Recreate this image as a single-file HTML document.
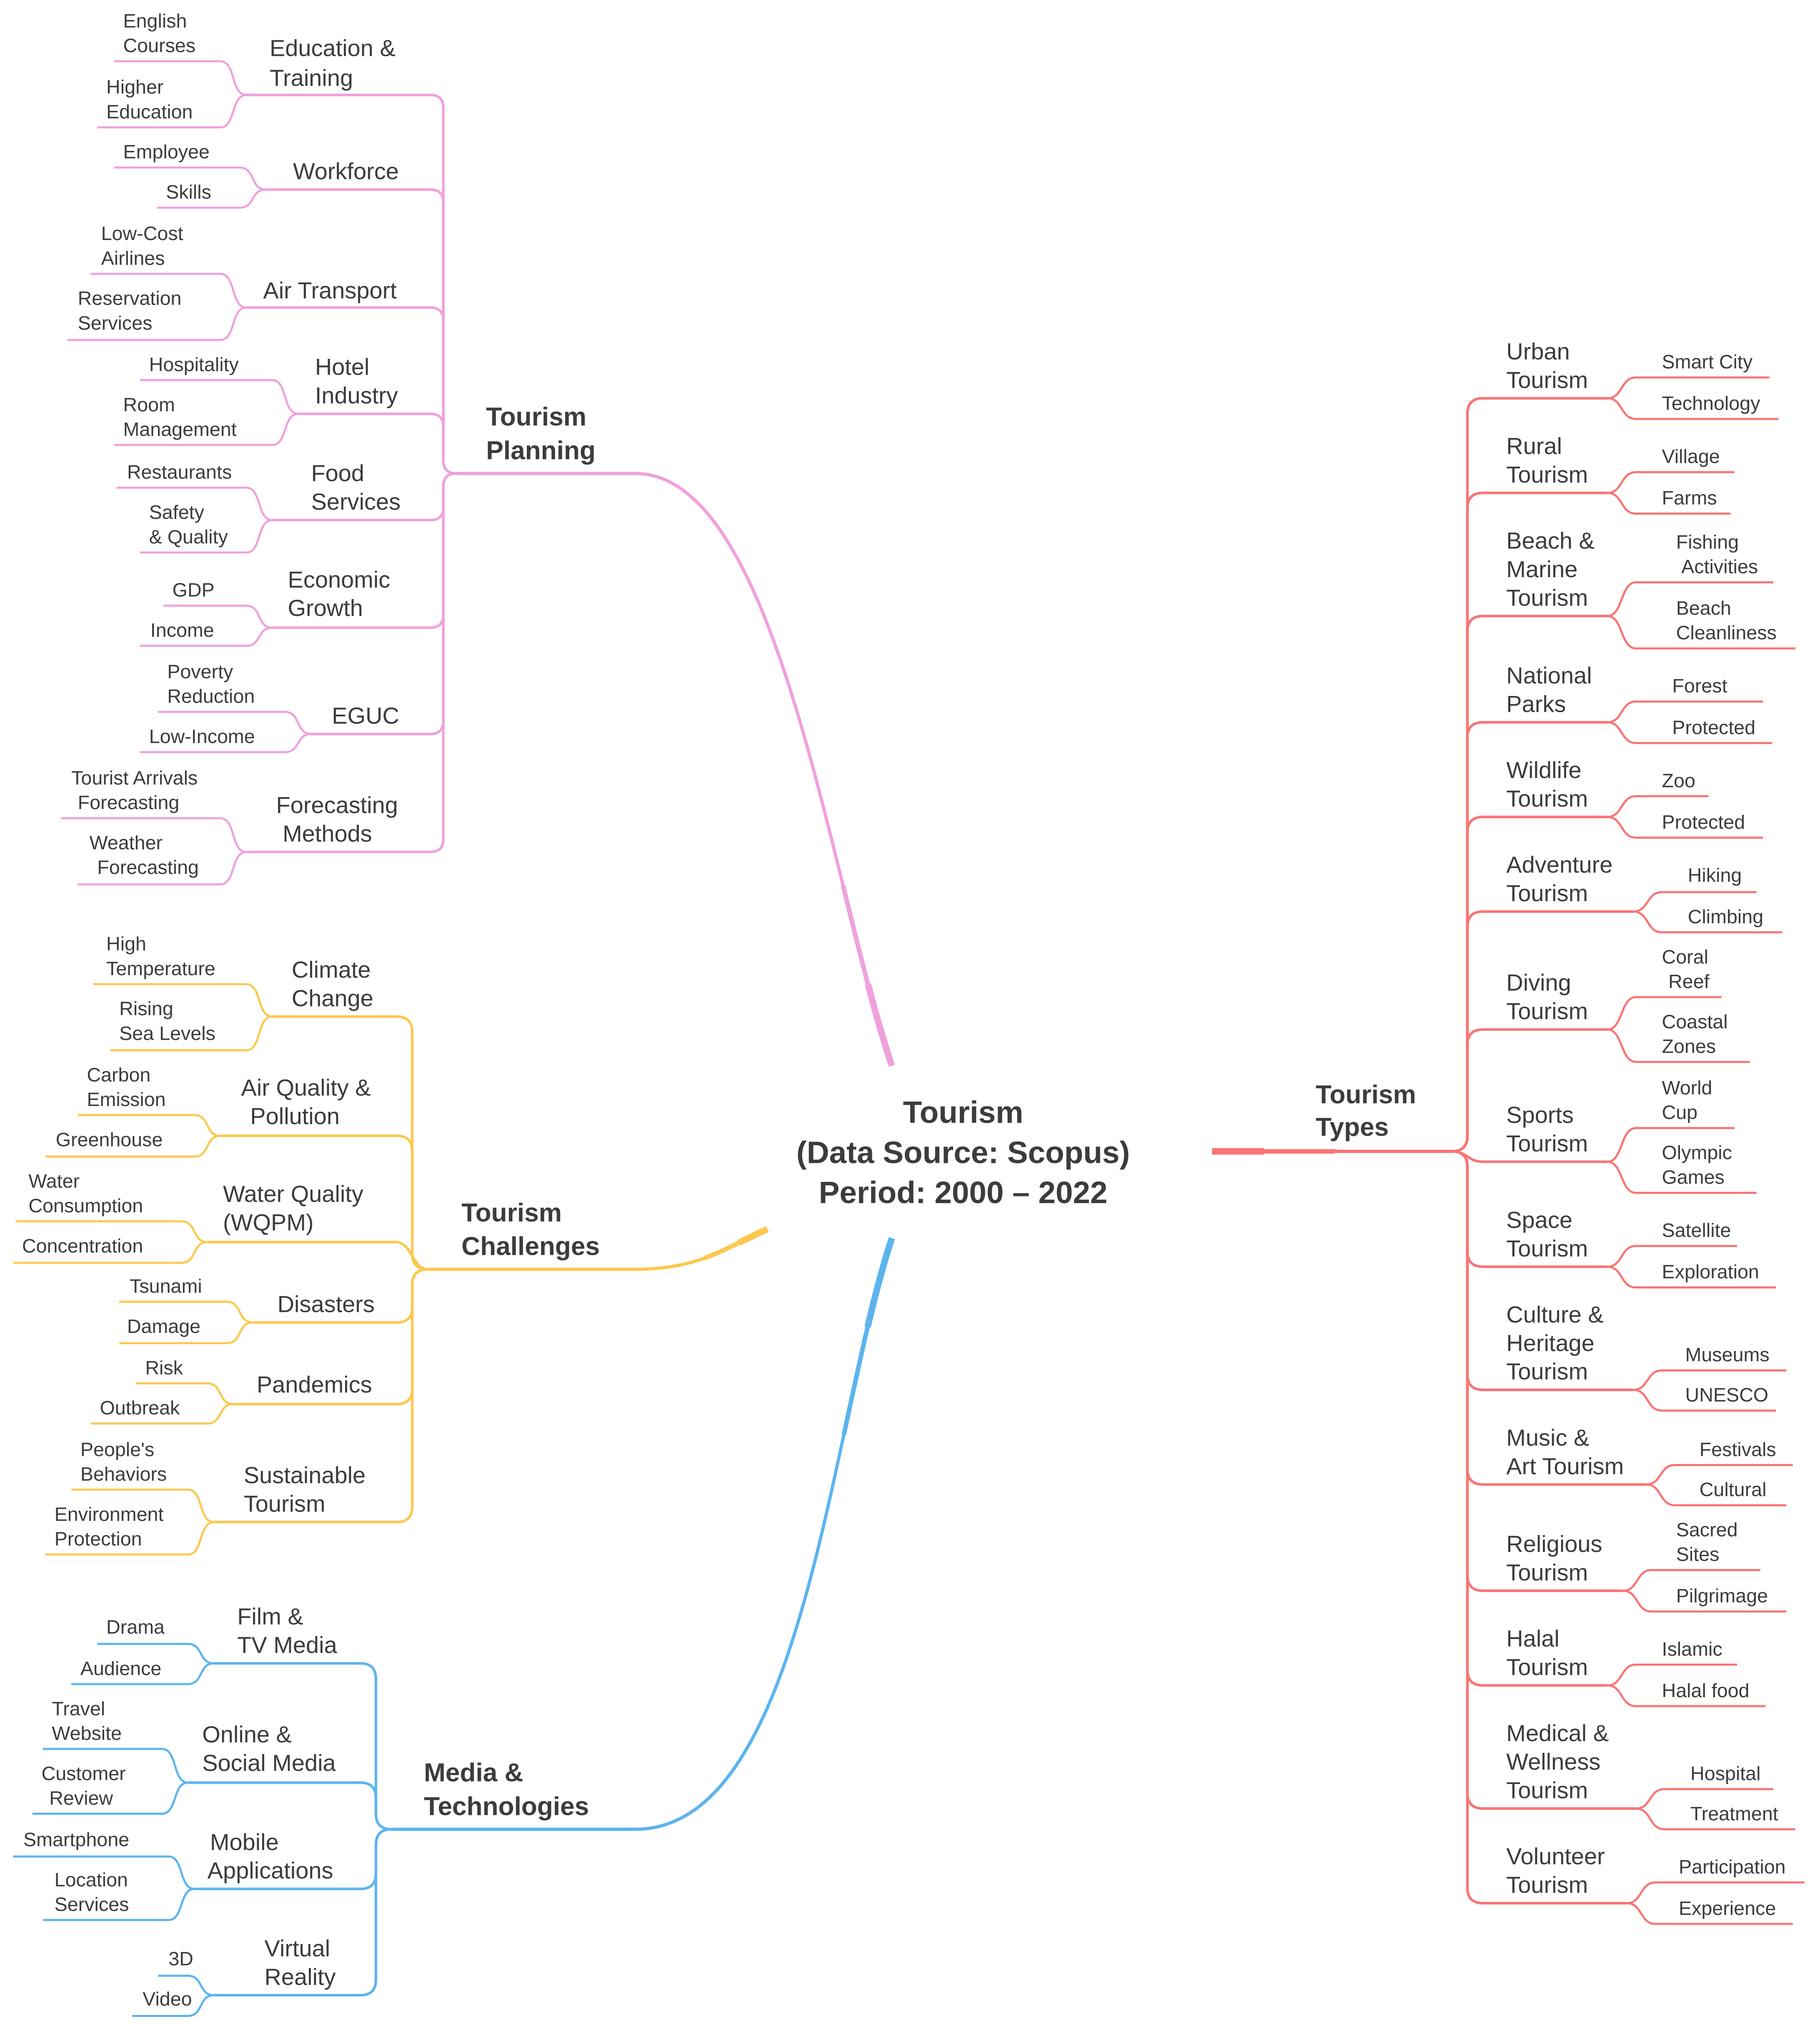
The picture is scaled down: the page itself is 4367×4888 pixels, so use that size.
<!DOCTYPE html>
<html><head><meta charset="utf-8"><style>
html,body{margin:0;padding:0;background:#fff;}
svg{display:block;}
text{font-family:"Liberation Sans",Arial,sans-serif;fill:#3c3c3c;}
.r{font-size:24px;font-weight:bold;}
.b{font-size:20px;font-weight:bold;}
.s{font-size:18px;}
.l{font-size:15px;}
.p{stroke:#f0a1dc;fill:none;}
.y{stroke:#fdc850;fill:none;}
.u{stroke:#5cb4ef;fill:none;}
.t{stroke:#f97474;fill:none;}
.m{stroke-width:2;}
.n{stroke-width:1.6;}
</style></head><body>
<svg width="4367" height="4888" viewBox="0 0 1404 1571" xmlns="http://www.w3.org/2000/svg">
<!-- ROOT -->
<text class="r" x="743" y="866" text-anchor="middle">Tourism</text>
<text class="r" x="743" y="897" text-anchor="middle">(Data Source: Scopus)</text>
<text class="r" x="743" y="928" text-anchor="middle">Period: 2000 – 2022</text>

<!-- MAIN BRANCHES -->
<path class="p" stroke-width="2.5" d="M352 365 H490 C600 365 640 680 688 822"/>
<path class="p" stroke-width="3.5" pathLength="100" stroke-dasharray="0 78 22" d="M352 365 H490 C600 365 640 680 688 822"/>
<path class="p" stroke-width="5" pathLength="100" stroke-dasharray="0 90 10" d="M352 365 H490 C600 365 640 680 688 822"/>
<path class="y" stroke-width="2.5" d="M330 979 H490 C540 979 560 962 592 948"/>
<path class="y" stroke-width="3.5" pathLength="100" stroke-dasharray="0 80 20" d="M330 979 H490 C540 979 560 962 592 948"/>
<path class="y" stroke-width="5" pathLength="100" stroke-dasharray="0 91 9" d="M330 979 H490 C540 979 560 962 592 948"/>
<path class="u" stroke-width="2.5" d="M302 1411 H490 C620 1411 640 1100 688 955"/>
<path class="u" stroke-width="3.5" pathLength="100" stroke-dasharray="0 78 22" d="M302 1411 H490 C620 1411 640 1100 688 955"/>
<path class="u" stroke-width="5" pathLength="100" stroke-dasharray="0 90 10" d="M302 1411 H490 C620 1411 640 1100 688 955"/>
<path class="t" stroke-width="2.5" d="M935 888 H1120"/>
<path class="t" stroke-width="3.5" d="M935 888 H1030"/>
<path class="t" stroke-width="5" d="M935 888 H975"/>

<!-- PLANNING -->
<text class="b" x="375" y="328">Tourism</text><text class="b" x="375" y="354">Planning</text>
<g class="p m">
<path d="M352 365Q342 365 342 355L342 83Q342 73 332 73H190"/>
<path d="M352 365Q342 365 342 355L342 156Q342 146 332 146H205"/>
<path d="M352 365Q342 365 342 355L342 247Q342 237 332 237H190"/>
<path d="M352 365Q342 365 342 355L342 329Q342 319 332 319H230"/>
<path d="M352 365Q342 365 342 375L342 391Q342 401 332 401H210"/>
<path d="M352 365Q342 365 342 375L342 474Q342 484 332 484H210"/>
<path d="M352 365Q342 365 342 375L342 556Q342 566 332 566H240"/>
<path d="M352 365Q342 365 342 375L342 647Q342 657 332 657H190"/>
</g>
<g class="p n">
<path d="M190 73C178 73 182 47 170 47H88"/><path d="M190 73C178 73 182 98 170 98H75"/>
<path d="M205 146C193 146 197 129 185 129H88"/><path d="M205 146C193 146 197 160 185 160H121"/>
<path d="M190 237C178 237 182 211 170 211H70"/><path d="M190 237C178 237 182 262 170 262H52"/>
<path d="M230 319C218 319 222 293 210 293H108"/><path d="M230 319C218 319 222 343 210 343H88"/>
<path d="M210 401C198 401 202 376 190 376H90"/><path d="M210 401C198 401 202 426 190 426H108"/>
<path d="M210 484C198 484 202 467 190 467H126"/><path d="M210 484C198 484 202 498 190 498H108"/>
<path d="M240 566C228 566 232 549 220 549H122"/><path d="M240 566C228 566 232 580 220 580H108"/>
<path d="M190 657C178 657 182 631 170 631H47"/><path d="M190 657C178 657 182 682 170 682H60"/>
</g>
<text class="s" x="208" y="43">Education &amp;</text><text class="s" x="208" y="66">Training</text>
<text class="s" x="226" y="138">Workforce</text>
<text class="s" x="203" y="230">Air Transport</text>
<text class="s" x="243" y="289">Hotel</text><text class="s" x="243" y="311">Industry</text>
<text class="s" x="240" y="371">Food</text><text class="s" x="240" y="393">Services</text>
<text class="s" x="222" y="453">Economic</text><text class="s" x="222" y="475">Growth</text>
<text class="s" x="256" y="558">EGUC</text>
<text class="s" x="213" y="627">Forecasting</text><text class="s" x="218" y="649">Methods</text>
<text class="l" x="95" y="21">English</text><text class="l" x="95" y="40">Courses</text>
<text class="l" x="82" y="72">Higher</text><text class="l" x="82" y="91">Education</text>
<text class="l" x="95" y="122">Employee</text>
<text class="l" x="128" y="153">Skills</text>
<text class="l" x="78" y="185">Low-Cost</text><text class="l" x="78" y="204">Airlines</text>
<text class="l" x="60" y="235">Reservation</text><text class="l" x="60" y="254">Services</text>
<text class="l" x="115" y="286">Hospitality</text>
<text class="l" x="95" y="317">Room</text><text class="l" x="95" y="336">Management</text>
<text class="l" x="98" y="369">Restaurants</text>
<text class="l" x="115" y="400">Safety</text><text class="l" x="115" y="419">&amp; Quality</text>
<text class="l" x="133" y="460">GDP</text>
<text class="l" x="116" y="491">Income</text>
<text class="l" x="129" y="523">Poverty</text><text class="l" x="129" y="542">Reduction</text>
<text class="l" x="115" y="573">Low-Income</text>
<text class="l" x="55" y="605">Tourist Arrivals</text><text class="l" x="60" y="624">Forecasting</text>
<text class="l" x="69" y="655">Weather</text><text class="l" x="75" y="674">Forecasting</text>

<!-- CHALLENGES -->
<text class="b" x="356" y="942">Tourism</text><text class="b" x="356" y="968">Challenges</text>
<g class="y m">
<path d="M330 979Q318 979 318 967L318 796Q318 784 306 784H210"/>
<path d="M330 979Q318 979 318 967L318 888Q318 876 306 876H170"/>
<path d="M330 979C318 979 318 958 305 958H160"/>
<path d="M330 979Q318 979 318 991L318 1008Q318 1020 306 1020H195"/>
<path d="M330 979Q318 979 318 991L318 1071Q318 1083 306 1083H180"/>
<path d="M330 979Q318 979 318 991L318 1162Q318 1174 306 1174H165"/>
</g>
<g class="y n">
<path d="M210 784C198 784 202 759 190 759H72"/><path d="M210 784C198 784 202 810 190 810H85"/>
<path d="M170 876C158 876 162 860 150 860H60"/><path d="M170 876C158 876 162 892 150 892H35"/>
<path d="M160 958C148 958 152 942 140 942H12"/><path d="M160 958C148 958 152 974 140 974H10"/>
<path d="M195 1020C183 1020 187 1004 175 1004H92"/><path d="M195 1020C183 1020 187 1036 175 1036H92"/>
<path d="M180 1083C168 1083 172 1067 160 1067H105"/><path d="M180 1083C168 1083 172 1098 160 1098H70"/>
<path d="M165 1174C153 1174 157 1149 145 1149H55"/><path d="M165 1174C153 1174 157 1199 145 1199H35"/>
</g>
<text class="s" x="225" y="754">Climate</text><text class="s" x="225" y="776">Change</text>
<text class="s" x="186" y="845">Air Quality &amp;</text><text class="s" x="193" y="867">Pollution</text>
<text class="s" x="172" y="927">Water Quality</text><text class="s" x="172" y="949">(WQPM)</text>
<text class="s" x="214" y="1012">Disasters</text>
<text class="s" x="198" y="1074">Pandemics</text>
<text class="s" x="188" y="1144">Sustainable</text><text class="s" x="188" y="1166">Tourism</text>
<text class="l" x="82" y="733">High</text><text class="l" x="82" y="752">Temperature</text>
<text class="l" x="92" y="783">Rising</text><text class="l" x="92" y="802">Sea Levels</text>
<text class="l" x="67" y="834">Carbon</text><text class="l" x="67" y="853">Emission</text>
<text class="l" x="43" y="884">Greenhouse</text>
<text class="l" x="22" y="916">Water</text><text class="l" x="22" y="935">Consumption</text>
<text class="l" x="17" y="966">Concentration</text>
<text class="l" x="100" y="997">Tsunami</text>
<text class="l" x="98" y="1028">Damage</text>
<text class="l" x="112" y="1060">Risk</text>
<text class="l" x="77" y="1091">Outbreak</text>
<text class="l" x="62" y="1123">People's</text><text class="l" x="62" y="1142">Behaviors</text>
<text class="l" x="42" y="1173">Environment</text><text class="l" x="42" y="1192">Protection</text>

<!-- MEDIA -->
<text class="b" x="327" y="1374">Media &amp;</text><text class="b" x="327" y="1400">Technologies</text>
<g class="u m">
<path d="M302 1411Q290 1411 290 1399L290 1295Q290 1283 278 1283H165"/>
<path d="M302 1411Q290 1411 290 1399L290 1387Q290 1375 278 1375H145"/>
<path d="M302 1411Q290 1411 290 1423L290 1445Q290 1457 278 1457H150"/>
<path d="M302 1411Q290 1411 290 1423L290 1527Q290 1539 278 1539H165"/>
</g>
<g class="u n">
<path d="M165 1283C153 1283 157 1268 145 1268H75"/><path d="M165 1283C153 1283 157 1299 145 1299H55"/>
<path d="M145 1375C133 1375 137 1349 125 1349H33"/><path d="M145 1375C133 1375 137 1399 125 1399H25"/>
<path d="M150 1457C138 1457 142 1432 130 1432H10"/><path d="M150 1457C138 1457 142 1481 130 1481H33"/>
<path d="M165 1539C153 1539 157 1524 145 1524H122"/><path d="M165 1539C153 1539 157 1555 145 1555H102"/>
</g>
<text class="s" x="183" y="1253">Film &amp;</text><text class="s" x="183" y="1275">TV Media</text>
<text class="s" x="156" y="1344">Online &amp;</text><text class="s" x="156" y="1366">Social Media</text>
<text class="s" x="162" y="1427">Mobile</text><text class="s" x="160" y="1449">Applications</text>
<text class="s" x="204" y="1509">Virtual</text><text class="s" x="204" y="1531">Reality</text>
<text class="l" x="82" y="1260">Drama</text>
<text class="l" x="62" y="1292">Audience</text>
<text class="l" x="40" y="1323">Travel</text><text class="l" x="40" y="1342">Website</text>
<text class="l" x="32" y="1373">Customer</text><text class="l" x="38" y="1392">Review</text>
<text class="l" x="18" y="1424">Smartphone</text>
<text class="l" x="42" y="1455">Location</text><text class="l" x="42" y="1474">Services</text>
<text class="l" x="130" y="1516">3D</text>
<text class="l" x="110" y="1547">Video</text>

<!-- TYPES -->
<text class="b" x="1015" y="851">Tourism</text><text class="b" x="1015" y="876">Types</text>
<g class="t m">
<path d="M1120 888Q1132 888 1132 876L1132 319Q1132 307 1144 307H1240"/>
<path d="M1120 888Q1132 888 1132 876L1132 392Q1132 380 1144 380H1240"/>
<path d="M1120 888Q1132 888 1132 876L1132 487Q1132 475 1144 475H1240"/>
<path d="M1120 888Q1132 888 1132 876L1132 569Q1132 557 1144 557H1240"/>
<path d="M1120 888Q1132 888 1132 876L1132 642Q1132 630 1144 630H1240"/>
<path d="M1120 888Q1132 888 1132 876L1132 715Q1132 703 1144 703H1260"/>
<path d="M1120 888Q1132 888 1132 876L1132 806Q1132 794 1144 794H1240"/>
<path d="M1120 888C1132 888 1132 896 1144 896H1240"/>
<path d="M1120 888Q1132 888 1132 900L1132 965Q1132 977 1144 977H1240"/>
<path d="M1120 888Q1132 888 1132 900L1132 1060Q1132 1072 1144 1072H1260"/>
<path d="M1120 888Q1132 888 1132 900L1132 1133Q1132 1145 1144 1145H1270"/>
<path d="M1120 888Q1132 888 1132 900L1132 1215Q1132 1227 1144 1227H1252"/>
<path d="M1120 888Q1132 888 1132 900L1132 1288Q1132 1300 1144 1300H1240"/>
<path d="M1120 888Q1132 888 1132 900L1132 1383Q1132 1395 1144 1395H1262"/>
<path d="M1120 888Q1132 888 1132 900L1132 1456Q1132 1468 1144 1468H1255"/>
</g>
<g class="t n">
<path d="M1240 307C1252 307 1250 291 1262 291H1365"/><path d="M1240 307C1252 307 1250 323 1262 323H1372"/>
<path d="M1240 380C1252 380 1250 364 1262 364H1338"/><path d="M1240 380C1252 380 1250 396 1262 396H1335"/>
<path d="M1240 475C1252 475 1250 449 1262 449H1368"/><path d="M1240 475C1252 475 1250 500 1262 500H1385"/>
<path d="M1240 557C1252 557 1250 541 1262 541H1360"/><path d="M1240 557C1252 557 1250 573 1262 573H1367"/>
<path d="M1240 630C1252 630 1250 614 1262 614H1318"/><path d="M1240 630C1252 630 1250 646 1262 646H1360"/>
<path d="M1260 703C1272 703 1270 688 1282 688H1355"/><path d="M1260 703C1272 703 1270 719 1282 719H1375"/>
<path d="M1240 794C1252 794 1250 769 1262 769H1328"/><path d="M1240 794C1252 794 1250 819 1262 819H1350"/>
<path d="M1240 896C1252 896 1250 870 1262 870H1338"/><path d="M1240 896C1252 896 1250 920 1262 920H1355"/>
<path d="M1240 977C1252 977 1250 961 1262 961H1340"/><path d="M1240 977C1252 977 1250 993 1262 993H1370"/>
<path d="M1260 1072C1272 1072 1270 1057 1282 1057H1378"/><path d="M1260 1072C1272 1072 1270 1088 1282 1088H1370"/>
<path d="M1270 1145C1282 1145 1280 1130 1292 1130H1383"/><path d="M1270 1145C1282 1145 1280 1161 1292 1161H1378"/>
<path d="M1252 1227C1264 1227 1262 1211 1274 1211H1358"/><path d="M1252 1227C1264 1227 1262 1243 1274 1243H1378"/>
<path d="M1240 1300C1252 1300 1250 1284 1262 1284H1340"/><path d="M1240 1300C1252 1300 1250 1316 1262 1316H1362"/>
<path d="M1262 1395C1274 1395 1272 1380 1284 1380H1368"/><path d="M1262 1395C1274 1395 1272 1411 1284 1411H1385"/>
<path d="M1255 1468C1267 1468 1265 1452 1277 1452H1392"/><path d="M1255 1468C1267 1468 1265 1484 1277 1484H1383"/>
</g>
<text class="s" x="1162" y="277">Urban</text><text class="s" x="1162" y="299">Tourism</text>
<text class="s" x="1162" y="350">Rural</text><text class="s" x="1162" y="372">Tourism</text>
<text class="s" x="1162" y="423">Beach &amp;</text><text class="s" x="1162" y="445">Marine</text><text class="s" x="1162" y="467">Tourism</text>
<text class="s" x="1162" y="527">National</text><text class="s" x="1162" y="549">Parks</text>
<text class="s" x="1162" y="600">Wildlife</text><text class="s" x="1162" y="622">Tourism</text>
<text class="s" x="1162" y="673">Adventure</text><text class="s" x="1162" y="695">Tourism</text>
<text class="s" x="1162" y="764">Diving</text><text class="s" x="1162" y="786">Tourism</text>
<text class="s" x="1162" y="866">Sports</text><text class="s" x="1162" y="888">Tourism</text>
<text class="s" x="1162" y="947">Space</text><text class="s" x="1162" y="969">Tourism</text>
<text class="s" x="1162" y="1020">Culture &amp;</text><text class="s" x="1162" y="1042">Heritage</text><text class="s" x="1162" y="1064">Tourism</text>
<text class="s" x="1162" y="1115">Music &amp;</text><text class="s" x="1162" y="1137">Art Tourism</text>
<text class="s" x="1162" y="1197">Religious</text><text class="s" x="1162" y="1219">Tourism</text>
<text class="s" x="1162" y="1270">Halal</text><text class="s" x="1162" y="1292">Tourism</text>
<text class="s" x="1162" y="1343">Medical &amp;</text><text class="s" x="1162" y="1365">Wellness</text><text class="s" x="1162" y="1387">Tourism</text>
<text class="s" x="1162" y="1438">Volunteer</text><text class="s" x="1162" y="1460">Tourism</text>
<text class="l" x="1282" y="284">Smart City</text><text class="l" x="1282" y="316">Technology</text>
<text class="l" x="1282" y="357">Village</text><text class="l" x="1282" y="389">Farms</text>
<text class="l" x="1293" y="423">Fishing</text><text class="l" x="1297" y="442">Activities</text>
<text class="l" x="1293" y="474">Beach</text><text class="l" x="1293" y="493">Cleanliness</text>
<text class="l" x="1290" y="534">Forest</text><text class="l" x="1290" y="566">Protected</text>
<text class="l" x="1282" y="607">Zoo</text><text class="l" x="1282" y="639">Protected</text>
<text class="l" x="1302" y="680">Hiking</text><text class="l" x="1302" y="712">Climbing</text>
<text class="l" x="1282" y="743">Coral</text><text class="l" x="1287" y="762">Reef</text>
<text class="l" x="1282" y="793">Coastal</text><text class="l" x="1282" y="812">Zones</text>
<text class="l" x="1282" y="844">World</text><text class="l" x="1282" y="863">Cup</text>
<text class="l" x="1282" y="894">Olympic</text><text class="l" x="1282" y="913">Games</text>
<text class="l" x="1282" y="954">Satellite</text><text class="l" x="1282" y="986">Exploration</text>
<text class="l" x="1300" y="1050">Museums</text><text class="l" x="1300" y="1081">UNESCO</text>
<text class="l" x="1311" y="1123">Festivals</text><text class="l" x="1311" y="1154">Cultural</text>
<text class="l" x="1293" y="1185">Sacred</text><text class="l" x="1293" y="1204">Sites</text>
<text class="l" x="1293" y="1236">Pilgrimage</text>
<text class="l" x="1282" y="1277">Islamic</text><text class="l" x="1282" y="1309">Halal food</text>
<text class="l" x="1304" y="1373">Hospital</text><text class="l" x="1304" y="1404">Treatment</text>
<text class="l" x="1295" y="1445">Participation</text><text class="l" x="1295" y="1477">Experience</text>
</svg>
</body></html>
